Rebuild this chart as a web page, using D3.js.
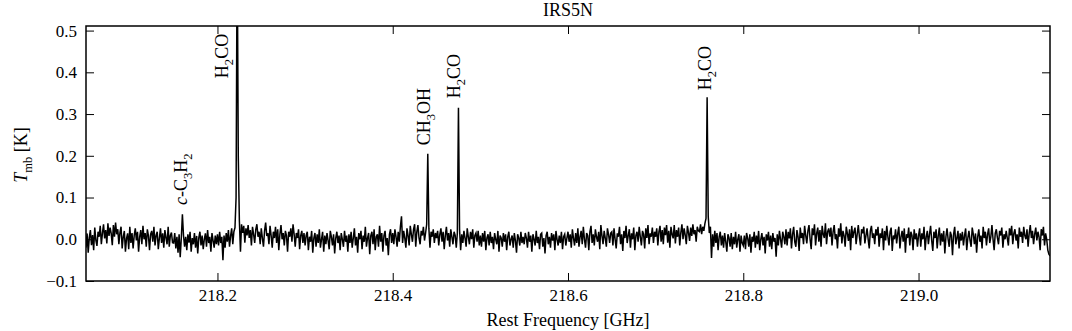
<!DOCTYPE html>
<html>
<head>
<meta charset="utf-8">
<script src="https://cdn.jsdelivr.net/npm/d3@7/dist/d3.min.js"></script>
<style>
  body { margin: 0; background: #fff; }
  svg text { font-family: "Liberation Serif", "Times New Roman", serif; fill: #000; }
</style>
</head>
<body>
<svg id="chart" width="1072" height="331"></svg>
<script>
// spectrum: first channel, channel width (GHz), Tmb in mK
var fStart = 218.05, fStep = 0.00125;
var tmb = [
  // 218.05
  -20, 14, -32, 4, 22, -14, 10, -26, 28, -2, -16, 18, 6, 32, -12, 14, 36, 2, 22, -10,
  38, 8, 28, 14, -14, 34, 6, 40, 12, 24, -12, 16, 30, -22, 6, 20, -30, 2, 14, -24,
  // 218.10
  30, -9, 15, -22, 9, 26, -3, 18, -30, 6, 22, -12, 32, 0, 15, -18, 24, 8, -26, 12,
  20, -6, 30, -15, 9, 18, -24, 3, 26, -9, 14, -20, 22, 4, -12, 30, -18, 9, 16, -8,
  // 218.15
  -9, 15, -22, 6, -32, 12, -43, 3, 60, 9, -18, 6, -26, 12, -8, 18, -30, 3, -12, 15,
  -20, 8, -34, 4, 18, -15, 9, -24, 0, 14, -18, 22, -9, 6, -30, 15, -3, -20, 9, -12,
  // 218.20
  12, -15, 18, -9, 6, -50, 9, -20, 15, -6, 22, -18, 8, 26, -12, 18, 28, 100, 720, 200,
  45, -30, 36, 15, 32, -8, 26, 9, 34, 3, 22, -15, 30, 12, -9, 24, 36, 6, 18, -12,
  // 218.25
  26, 3, -18, 20, 40, 8, 15, -12, 32, 9, -20, 18, 3, 30, -9, 24, -26, 12, 34, 0,
  15, -15, 20, 9, -30, 18, 6, 26, -6, 36, 12, -18, 15, 3, 24, -24, 9, 20, -9, 15,
  // 218.30
  -15, 9, 18, -26, 6, -6, 20, -32, 3, 15, -18, 12, -9, 24, -20, 0, 18, -30, 9, -12,
  15, -3, -24, 20, 6, -15, 12, -34, 3, 18, -9, 9, -26, 15, 0, -18, 20, -6, 9, -30,
  // 218.35
  12, -9, 18, -20, 3, 26, -15, 6, -32, 15, 0, 20, -24, 9, -6, 30, -18, 3, 15, -36,
  9, 18, -12, 24, -26, 6, 12, -18, 32, -6, 15, -30, 9, 20, -15, 3, -38, 12, 24, -9,
  // 218.40
  15, -12, 24, 6, -18, 18, -6, 30, 55, -9, 20, 3, -20, 26, 9, -15, 32, 12, -6, 24,
  36, -18, 18, 34, 3, -12, 20, 9, 30, -3, 15, 36, 205, 26, -20, 18, 6, 24, -9, 15,
  // 218.45
  3, 20, -15, 12, 26, -6, 18, -24, 9, 30, -3, 15, -18, 24, 6, -12, 18, 9, -20, 15,
  315, 24, -26, 12, -9, 20, 3, -18, 26, 6, -12, 18, 0, 24, -20, 9, 15, -6, 20, -15,
  // 218.50
  9, -18, 15, -6, 20, -26, 3, 12, -15, 18, -9, 6, -24, 15, 0, -12, 20, -30, 9, 3,
  -18, 15, -6, 12, -26, 6, 18, -15, 0, 9, -20, 15, -3, -32, 12, 3, -15, 18, -9, 6,
  // 218.55
  -12, 15, 3, -20, 18, -6, 9, -30, 12, 0, -15, 20, -9, 6, -24, 12, 15, -18, 3, -34,
  9, 18, -12, 6, -20, 15, -3, 12, -26, 20, 0, -15, 9, -9, 18, -24, 6, 12, -15, 3,
  // 218.60
  18, -6, 12, -20, 24, 3, -15, 15, -9, 26, -18, 6, 20, -12, 30, 0, -20, 15, 9, -26,
  18, 32, -9, 12, -15, 24, 6, -6, 18, -24, 34, 9, -12, 20, 3, -18, 26, 12, -9, 15,
  // 218.65
  18, -15, 26, 0, -22, 14, 6, 30, -12, 12, -28, 20, 3, 32, -9, 9, 24, -20, 14, 0,
  28, -26, 9, 18, -6, 30, 6, -15, 20, 12, -22, 26, 3, 34, -12, 14, 6, 28, -9, 18,
  // 218.70
  6, 26, -15, 18, 32, -6, 22, -12, 28, 10, 34, -8, 20, -20, 30, 12, 2, 34, -10, 22,
  6, 28, -15, 16, 36, 0, 26, 10, -12, 32, 16, -4, 28, 8, 36, 12, 22, -6, 30, 20,
  // 218.75
  18, 36, 12, 30, 20, 38, 50, 340, 55, 15, 30, -45, 12, -18, 20, -9, 15, -26, 6, 18,
  -15, 9, -20, 15, -6, -30, 12, 3, -18, 15, -24, 6, -12, 18, -20, 0, 12, -30, 9, -9,
  // 218.80
  -15, 9, -24, 15, 3, -18, 12, -32, 6, -6, 18, -20, 9, -12, 20, -26, 0, 15, -15, 6,
  -34, 12, -3, 18, -18, 9, -24, 15, -6, 3, -42, 12, -15, 20, 0, -20, 18, 6, -12, 24,
  // 218.85
  -15, 18, 2, 26, -22, 12, 30, -6, -18, 22, 6, -28, 28, 3, 15, -12, 32, 9, -10, 20,
  34, 0, -24, 26, 10, 36, -15, 14, 28, -6, 22, -18, 32, 12, 3, 38, -12, 18, 26, 6,
  // 218.90
  28, -15, 18, 34, 0, 12, -22, 26, 6, 38, -10, 20, 9, -18, 30, 14, -4, 24, -26, 32,
  3, 18, 28, -12, 12, 34, 6, -15, 24, 14, 30, -10, 9, 26, 0, -22, 20, 32, 3, 14,
  // 218.95
  -12, 24, 9, 30, -18, 14, 3, 26, -26, 20, -3, 32, 6, -15, 18, 28, -28, 9, 0, 24,
  -10, 14, 30, -22, 6, 20, -6, 26, -32, 12, 3, 28, -15, 18, 9, -26, 24, 0, 14, -18,
  // 219.00
  9, 26, -18, 14, 0, 30, -26, 6, 20, -12, 12, 32, -3, -28, 18, 3, 24, -22, 9, 28,
  -15, 14, -6, 20, -34, 6, 26, 0, -18, 18, 9, -38, 12, 30, -12, 3, 20, -22, 14, -3,
  // 219.05
  18, -15, 9, 26, -26, 3, 20, -3, -18, 28, 12, -12, 14, -32, 6, 24, -6, 9, -22, 30,
  3, 18, -15, 12, 26, -9, 6, 34, 0, -26, 14, 24, 3, -12, 20, 9, 28, -20, 12, 0,
  // 219.10
  20, 3, -15, 26, 9, 32, -12, 14, 24, -3, 12, -22, 28, 6, 18, -9, 30, 9, 0, 24,
  -18, 14, 34, 3, 20, -12, 12, 28, -3, 18, 6, -26, 24, 9, 30, -15, 14, 0, -26, -36,
  -40
];

// line identifications
var lineNames = [
  [["c", "i"], ["-C", ""], ["3", "sub"], ["H", ""], ["2", "sub"]],
  [["H", ""], ["2", "sub"], ["CO", ""]],
  [["CH", ""], ["3", "sub"], ["OH", ""]],
  [["H", ""], ["2", "sub"], ["CO", ""]],
  [["H", ""], ["2", "sub"], ["CO", ""]]
];
var lineFreq = [218.160, 218.222, 218.440, 218.475, 218.759];
var labelY = [0.082, 0.386, 0.225, 0.338, 0.357];

var xTicks = [218.2, 218.4, 218.6, 218.8, 219.0];
var yTicks = [-0.1, 0.0, 0.1, 0.2, 0.3, 0.4, 0.5];

var svg = d3.select("#chart");
var L = 86, R = 1050, T = 26, B = 281;

var x = d3.scaleLinear().domain([218.05, 219.15]).range([L, R]);
var y = d3.scaleLinear().domain([-0.1, 0.511]).range([B, T]);

var data = tmb.map(function (v, i) {
  return { f: fStart + i * fStep, t: v / 1000 };
});

svg.append("clipPath").attr("id", "clip")
  .append("rect").attr("x", L).attr("y", T).attr("width", R - L).attr("height", B - T);

var line = d3.line().x(d => x(d.f)).y(d => y(d.t));
svg.append("path")
  .datum(data)
  .attr("clip-path", "url(#clip)")
  .attr("fill", "none")
  .attr("stroke", "#000")
  .attr("stroke-width", 1.5)
  .attr("d", line);

// axes, ticks pointing inward on all four sides
var tick = 8;
function styleAxis(g) {
  g.attr("font-family", null).attr("font-size", null);
  g.select(".domain").remove();
  g.selectAll(".tick line").attr("stroke", "#000").attr("stroke-width", 1);
  g.selectAll(".tick text").attr("font-size", 17);
}
svg.append("g").attr("transform", "translate(0," + B + ")")
  .call(d3.axisBottom(x).tickValues(xTicks).tickSize(-tick).tickPadding(8).tickFormat(d3.format(".1f")))
  .call(styleAxis);
svg.append("g").attr("transform", "translate(0," + T + ")")
  .call(d3.axisTop(x).tickValues(xTicks).tickSize(-tick).tickFormat(""))
  .call(styleAxis);
svg.append("g").attr("transform", "translate(" + L + ",0)")
  .call(d3.axisLeft(y).tickValues(yTicks).tickSize(-tick).tickPadding(9).tickFormat(d3.format(".1f")))
  .call(styleAxis);
svg.append("g").attr("transform", "translate(" + R + ",0)")
  .call(d3.axisRight(y).tickValues(yTicks).tickSize(-tick).tickFormat(""))
  .call(styleAxis);

svg.append("rect")
  .attr("x", L).attr("y", T).attr("width", R - L).attr("height", B - T)
  .attr("fill", "none").attr("stroke", "#000").attr("stroke-width", 1.5);

// rich text helper: segments of [text, style]
function richText(sel, segs, size) {
  var shift = 0;
  segs.forEach(function (s) {
    var ts = sel.append("tspan").text(s[0]);
    var want = s[1] === "sub" ? Math.round(size * 0.28) : 0;
    ts.attr("dy", want - shift);
    shift = want;
    if (s[1] === "sub") ts.attr("font-size", size * 0.7);
    if (s[1] === "i") ts.attr("font-style", "italic");
  });
}

// line labels, rotated, centred on the line
var labelDx = [0, -14, -3, -3, -1];
lineNames.forEach(function (segs, i) {
  var px = x(lineFreq[i]) + labelDx[i] + 5, py = y(labelY[i]);
  var t = svg.append("text")
    .attr("transform", "translate(" + px + "," + py + ") rotate(-90)")
    .attr("font-size", 18);
  richText(t, segs, 18);
});

// title and axis labels
svg.append("text").attr("x", (L + R) / 2).attr("y", 16)
  .attr("text-anchor", "middle").attr("font-size", 18).text("IRS5N");

svg.append("text").attr("x", (L + R) / 2).attr("y", 326)
  .attr("text-anchor", "middle").attr("font-size", 18).text("Rest Frequency [GHz]");

var yl = svg.append("text")
  .attr("transform", "translate(27,155) rotate(-90)")
  .attr("text-anchor", "middle").attr("font-size", 18);
richText(yl, [["T", "i"], ["mb", "sub"], [" [K]", ""]], 18);
</script>
</body>
</html>
